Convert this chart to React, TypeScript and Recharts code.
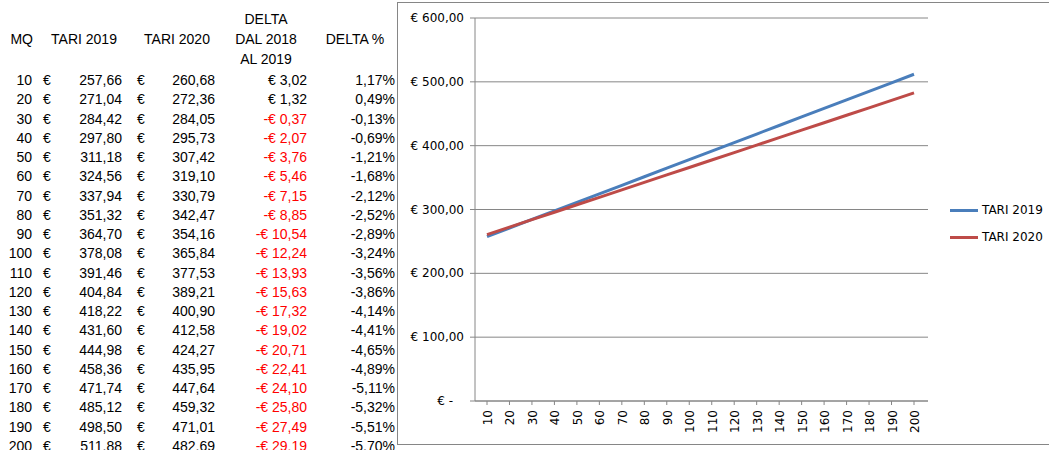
import { CartesianGrid, Legend, Line, LineChart, XAxis, YAxis } from 'recharts'

const mq = [10, 20, 30, 40, 50, 60, 70, 80, 90, 100, 110, 120, 130, 140, 150, 160, 170, 180, 190, 200]

const tari2019 = [
  257.66, 271.04, 284.42, 297.8, 311.18, 324.56, 337.94, 351.32, 364.7, 378.08,
  391.46, 404.84, 418.22, 431.6, 444.98, 458.36, 471.74, 485.12, 498.5, 511.88,
]

const tari2020 = [
  260.68, 272.36, 284.05, 295.73, 307.42, 319.1, 330.79, 342.47, 354.16, 365.84,
  377.53, 389.21, 400.9, 412.58, 424.27, 435.95, 447.64, 459.32, 471.01, 482.69,
]

const delta = [
  3.02, 1.32, -0.37, -2.07, -3.76, -5.46, -7.15, -8.85, -10.54, -12.24,
  -13.93, -15.63, -17.32, -19.02, -20.71, -22.41, -24.1, -25.8, -27.49, -29.19,
]

const deltaPct = [
  1.17, 0.49, -0.13, -0.69, -1.21, -1.68, -2.12, -2.52, -2.89, -3.24,
  -3.56, -3.86, -4.14, -4.41, -4.65, -4.89, -5.11, -5.32, -5.51, -5.7,
]

const yTicks = [0, 100, 200, 300, 400, 500, 600]

const data = mq.map((m, i) => ({
  mq: m,
  tari2019: tari2019[i],
  tari2020: tari2020[i],
}))

const chartFont = '"DejaVu Sans", sans-serif'
const tableFont = '"Liberation Sans", Arial, sans-serif'
const gray = '#868686'

const fmt = (v: number) => v.toFixed(2).replace('.', ',')

function Cell({
  text,
  right,
  left,
  center,
  y,
  color = '#000',
}: {
  text: string
  right?: number
  left?: number
  center?: number
  y: number
  color?: string
}) {
  const w = 120
  let x = 0
  let align: 'left' | 'right' | 'center' = 'left'
  if (right !== undefined) {
    x = right - w
    align = 'right'
  } else if (center !== undefined) {
    x = center - w / 2
    align = 'center'
  } else if (left !== undefined) {
    x = left
  }
  return (
    <div
      style={{
        position: 'absolute',
        left: x,
        top: y - 10,
        width: w,
        height: 20,
        lineHeight: '20px',
        textAlign: align,
        whiteSpace: 'nowrap',
        color,
      }}
    >
      {text}
    </div>
  )
}

function Table() {
  return (
    <div style={{ position: 'absolute', left: 0, top: 0, fontFamily: tableFont, fontSize: 14 }}>
      <Cell text="MQ" right={33} y={39} />
      <Cell text="TARI 2019" center={84} y={39} />
      <Cell text="TARI 2020" center={177} y={39} />
      <Cell text="DELTA" center={266} y={19} />
      <Cell text="DAL 2018" center={266} y={39} />
      <Cell text="AL 2019" center={266} y={59} />
      <Cell text="DELTA %" center={355} y={39} />
      {mq.map((m, i) => {
        const y = 80 + i * 19.25
        const d = delta[i]
        return (
          <div key={m}>
            <Cell text={String(m)} right={32} y={y} />
            <Cell text="€" left={43} y={y} />
            <Cell text={fmt(tari2019[i])} right={122} y={y} />
            <Cell text="€" left={137} y={y} />
            <Cell text={fmt(tari2020[i])} right={215} y={y} />
            <Cell
              text={d < 0 ? `-€ ${fmt(-d)}` : `€ ${fmt(d)}`}
              right={307}
              y={y}
              color={d < 0 ? '#ff0000' : '#000'}
            />
            <Cell text={`${fmt(deltaPct[i])}%`} right={395} y={y} />
          </div>
        )
      })}
    </div>
  )
}

function YTick(props: any) {
  const { x, y, payload } = props
  const v = payload.value as number
  const label = v === 0 ? '€ -' : `€ ${fmt(v)}`
  return (
    <text
      x={v === 0 ? x - 11 : x}
      y={y}
      dy={4}
      textAnchor="end"
      fontFamily={chartFont}
      fontSize={12}
      fill="#000"
    >
      {label}
    </text>
  )
}

function XTick(props: any) {
  const { x, y, payload } = props
  return (
    <g transform={`translate(${x},${y + 3}) rotate(-90)`}>
      <text x={0} y={0} dy={5} textAnchor="end" fontFamily={chartFont} fontSize={12} fill="#000">
        {payload.value}
      </text>
    </g>
  )
}

function LegendBox(props: any) {
  const { payload } = props
  return (
    <div style={{ width: 116, paddingLeft: 22, boxSizing: 'border-box', fontFamily: chartFont, fontSize: 12 }}>
      {(payload || []).map((p: any) => (
        <div key={p.value} style={{ display: 'flex', alignItems: 'center', height: 27, color: '#000' }}>
          <span style={{ display: 'inline-block', width: 28, height: 3, background: p.color, marginRight: 4 }} />
          {p.value}
        </div>
      ))}
    </div>
  )
}

export default function App() {
  return (
    <div
      style={{
        position: 'absolute',
        left: 0,
        top: 0,
        width: 1049,
        height: 450,
        overflow: 'hidden',
        background: '#fff',
      }}
    >
      <Table />
      <div
        style={{
          position: 'absolute',
          left: 397,
          top: 2,
          width: 700,
          height: 441,
          borderLeft: `1px solid ${gray}`,
          borderTop: `1px solid ${gray}`,
          borderBottom: `1px solid ${gray}`,
          background: '#fff',
        }}
      >
        <LineChart
          width={651}
          height={441}
          data={data}
          margin={{ top: 15, right: 5, bottom: 3, left: 0 }}
        >
          <CartesianGrid vertical={false} stroke={gray} />
          <XAxis
            dataKey="mq"
            interval={0}
            height={40}
            padding={{ left: 12, right: 14 }}
            stroke={gray}
            tickSize={4}
            tick={<XTick />}
          />
          <YAxis
            domain={[0, 600]}
            ticks={yTicks}
            width={77}
            stroke={gray}
            tickSize={5}
            tickMargin={6}
            tick={<YTick />}
          />
          <Legend
            layout="vertical"
            align="right"
            verticalAlign="middle"
            content={<LegendBox />}
          />
          <Line
            type="linear"
            dataKey="tari2019"
            name="TARI 2019"
            stroke="#4a7ebb"
            strokeWidth={3}
            dot={false}
            isAnimationActive={false}
          />
          <Line
            type="linear"
            dataKey="tari2020"
            name="TARI 2020"
            stroke="#be4b48"
            strokeWidth={3}
            dot={false}
            isAnimationActive={false}
          />
        </LineChart>
      </div>
    </div>
  )
}
